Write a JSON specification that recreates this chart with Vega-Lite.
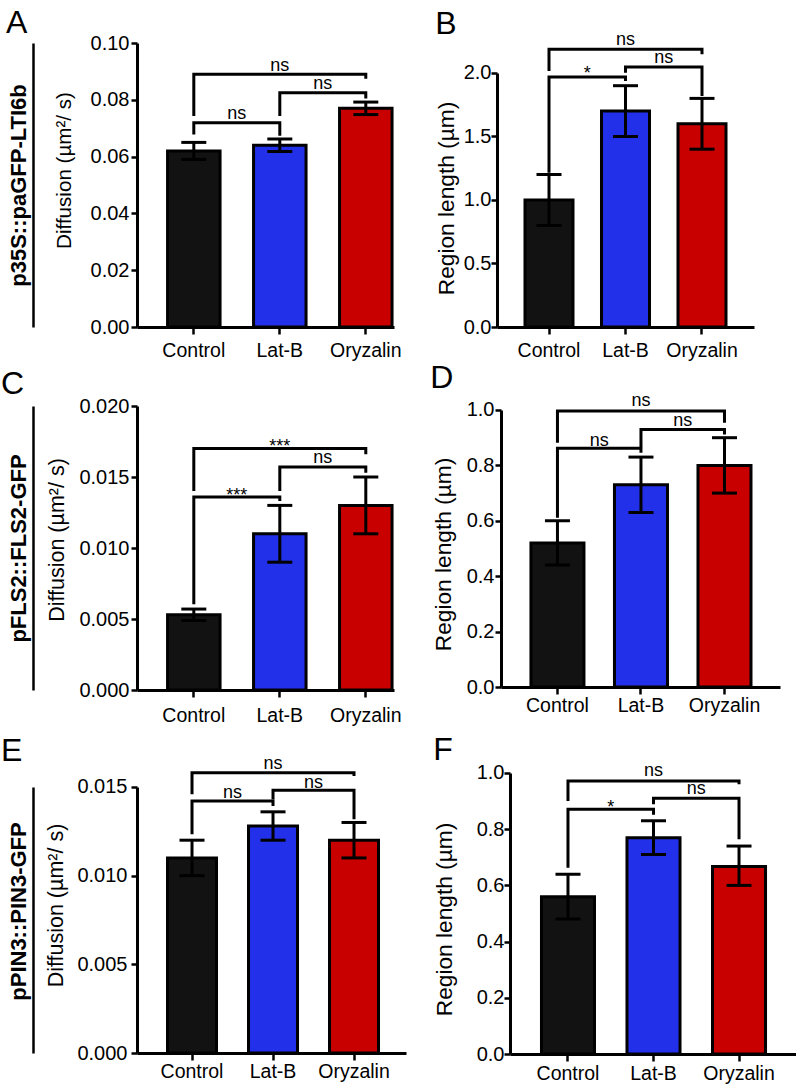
{
  "$schema": "https://vega.github.io/schema/vega-lite/v6.json",
  "padding": {"left": 1, "top": 7, "right": 2, "bottom": 2},
  "background": "white",
  "spacing": 363,
  "bounds": "flush",
  "datasets": {
    "barsA": [{"g": "Control", "m": 0.062, "lo": 0.059, "hi": 0.065}, {"g": "Lat-B", "m": 0.064, "lo": 0.0618, "hi": 0.0662}, {"g": "Oryzalin", "m": 0.077, "lo": 0.0748, "hi": 0.0792}],
    "barsB": [{"g": "Control", "m": 1.0, "lo": 0.8, "hi": 1.2}, {"g": "Lat-B", "m": 1.7, "lo": 1.5, "hi": 1.9}, {"g": "Oryzalin", "m": 1.6, "lo": 1.4, "hi": 1.8}],
    "barsC": [{"g": "Control", "m": 0.0053, "lo": 0.0049, "hi": 0.0057}, {"g": "Lat-B", "m": 0.011, "lo": 0.009, "hi": 0.013}, {"g": "Oryzalin", "m": 0.013, "lo": 0.011, "hi": 0.015}],
    "barsD": [{"g": "Control", "m": 0.52, "lo": 0.44, "hi": 0.6}, {"g": "Lat-B", "m": 0.73, "lo": 0.63, "hi": 0.83}, {"g": "Oryzalin", "m": 0.8, "lo": 0.7, "hi": 0.9}],
    "barsE": [{"g": "Control", "m": 0.011, "lo": 0.01, "hi": 0.012}, {"g": "Lat-B", "m": 0.0128, "lo": 0.012, "hi": 0.0136}, {"g": "Oryzalin", "m": 0.012, "lo": 0.011, "hi": 0.013}],
    "barsF": [{"g": "Control", "m": 0.56, "lo": 0.48, "hi": 0.64}, {"g": "Lat-B", "m": 0.77, "lo": 0.71, "hi": 0.83}, {"g": "Oryzalin", "m": 0.667, "lo": 0.6, "hi": 0.74}],
    "brA": [
      {"id": 1, "k": 0, "g": "Control", "v": 0.0678}, {"id": 1, "k": 1, "g": "Control", "v": 0.0719}, {"id": 1, "k": 2, "g": "Lat-B", "v": 0.0719}, {"id": 1, "k": 3, "g": "Lat-B", "v": 0.0673},
      {"id": 2, "k": 0, "g": "Lat-B", "v": 0.0743}, {"id": 2, "k": 1, "g": "Lat-B", "v": 0.0825}, {"id": 2, "k": 2, "g": "Oryzalin", "v": 0.0825}, {"id": 2, "k": 3, "g": "Oryzalin", "v": 0.0805},
      {"id": 3, "k": 0, "g": "Control", "v": 0.0743}, {"id": 3, "k": 1, "g": "Control", "v": 0.089}, {"id": 3, "k": 2, "g": "Oryzalin", "v": 0.089}, {"id": 3, "k": 3, "g": "Oryzalin", "v": 0.0874}
    ],
    "brB": [
      {"id": 1, "k": 0, "g": "Control", "v": 1.215}, {"id": 1, "k": 1, "g": "Control", "v": 1.969}, {"id": 1, "k": 2, "g": "Lat-B", "v": 1.969}, {"id": 1, "k": 3, "g": "Lat-B", "v": 1.937},
      {"id": 2, "k": 0, "g": "Lat-B", "v": 2.002}, {"id": 2, "k": 1, "g": "Lat-B", "v": 2.047}, {"id": 2, "k": 2, "g": "Oryzalin", "v": 2.047}, {"id": 2, "k": 3, "g": "Oryzalin", "v": 1.819},
      {"id": 3, "k": 0, "g": "Control", "v": 2.016}, {"id": 3, "k": 1, "g": "Control", "v": 2.187}, {"id": 3, "k": 2, "g": "Oryzalin", "v": 2.187}, {"id": 3, "k": 3, "g": "Oryzalin", "v": 2.147}
    ],
    "brC": [
      {"id": 1, "k": 0, "g": "Control", "v": 0.00604}, {"id": 1, "k": 1, "g": "Control", "v": 0.01359}, {"id": 1, "k": 2, "g": "Lat-B", "v": 0.01359}, {"id": 1, "k": 3, "g": "Lat-B", "v": 0.01331},
      {"id": 2, "k": 0, "g": "Lat-B", "v": 0.01401}, {"id": 2, "k": 1, "g": "Lat-B", "v": 0.0157}, {"id": 2, "k": 2, "g": "Oryzalin", "v": 0.0157}, {"id": 2, "k": 3, "g": "Oryzalin", "v": 0.0153},
      {"id": 3, "k": 0, "g": "Control", "v": 0.01401}, {"id": 3, "k": 1, "g": "Control", "v": 0.017}, {"id": 3, "k": 2, "g": "Oryzalin", "v": 0.017}, {"id": 3, "k": 3, "g": "Oryzalin", "v": 0.0166}
    ],
    "brD": [
      {"id": 1, "k": 0, "g": "Control", "v": 0.611}, {"id": 1, "k": 1, "g": "Control", "v": 0.862}, {"id": 1, "k": 2, "g": "Lat-B", "v": 0.862}, {"id": 1, "k": 3, "g": "Lat-B", "v": 0.846},
      {"id": 2, "k": 0, "g": "Lat-B", "v": 0.866}, {"id": 2, "k": 1, "g": "Lat-B", "v": 0.93}, {"id": 2, "k": 2, "g": "Oryzalin", "v": 0.93}, {"id": 2, "k": 3, "g": "Oryzalin", "v": 0.912},
      {"id": 3, "k": 0, "g": "Control", "v": 0.882}, {"id": 3, "k": 1, "g": "Control", "v": 0.996}, {"id": 3, "k": 2, "g": "Oryzalin", "v": 0.996}, {"id": 3, "k": 3, "g": "Oryzalin", "v": 0.954}
    ],
    "brE": [
      {"id": 1, "k": 0, "g": "Control", "v": 0.01233}, {"id": 1, "k": 1, "g": "Control", "v": 0.01421}, {"id": 1, "k": 2, "g": "Lat-B", "v": 0.01421}, {"id": 1, "k": 3, "g": "Lat-B", "v": 0.01393},
      {"id": 2, "k": 0, "g": "Lat-B", "v": 0.0143}, {"id": 2, "k": 1, "g": "Lat-B", "v": 0.01481}, {"id": 2, "k": 2, "g": "Oryzalin", "v": 0.01481}, {"id": 2, "k": 3, "g": "Oryzalin", "v": 0.01318},
      {"id": 3, "k": 0, "g": "Control", "v": 0.01459}, {"id": 3, "k": 1, "g": "Control", "v": 0.01581}, {"id": 3, "k": 2, "g": "Oryzalin", "v": 0.01581}, {"id": 3, "k": 3, "g": "Oryzalin", "v": 0.01562}
    ],
    "brF": [
      {"id": 1, "k": 0, "g": "Control", "v": 0.663}, {"id": 1, "k": 1, "g": "Control", "v": 0.871}, {"id": 1, "k": 2, "g": "Lat-B", "v": 0.871}, {"id": 1, "k": 3, "g": "Lat-B", "v": 0.851},
      {"id": 2, "k": 0, "g": "Lat-B", "v": 0.889}, {"id": 2, "k": 1, "g": "Lat-B", "v": 0.91}, {"id": 2, "k": 2, "g": "Oryzalin", "v": 0.91}, {"id": 2, "k": 3, "g": "Oryzalin", "v": 0.764},
      {"id": 3, "k": 0, "g": "Control", "v": 0.9}, {"id": 3, "k": 1, "g": "Control", "v": 0.9715}, {"id": 3, "k": 2, "g": "Oryzalin", "v": 0.9715}, {"id": 3, "k": 3, "g": "Oryzalin", "v": 0.96}
    ]
  },
  "vconcat": [
    {
      "bounds": "flush",
      "spacing": 103,
      "hconcat": [
        {
          "width": 257, "height": 284,
          "title": {"text": "A", "anchor": "start", "frame": "bounds", "dx": -1, "offset": -7},
          "layer": [
            {"layer": [
              {"data": {"name": "barsA"}, "mark": {"type": "bar", "stroke": "black", "strokeWidth": 3},
               "encoding": {
                 "x": {"field": "g", "type": "nominal", "scale": {"domain": ["Control", "Lat-B", "Oryzalin"], "paddingInner": 0.3895, "paddingOuter": 0.189, "align": 0.94, "round": false}, "axis": {"title": null, "labelPadding": 7.2}},
                 "y": {"field": "m", "type": "quantitative", "scale": {"domain": [0, 0.1], "nice": false}, "axis": {"values": [0, 0.02, 0.04, 0.06, 0.08, 0.1], "format": ".2f", "title": "Diffusion (µm²/ s)", "titleFontSize": 20.6, "titlePadding": 16, "labelPadding": 2, "titleY": 127}},
                 "color": {"field": "g", "type": "nominal", "scale": {"domain": ["Control", "Lat-B", "Oryzalin"], "range": ["#121212", "#2230ea", "#c80000"]}, "legend": null}}},
              {"data": {"name": "barsA"}, "mark": {"type": "rule", "color": "black", "strokeWidth": 3},
               "encoding": {"x": {"field": "g", "type": "nominal"}, "y": {"field": "lo", "type": "quantitative"}, "y2": {"field": "hi"}}},
              {"data": {"name": "barsA"}, "mark": {"type": "tick", "color": "black", "opacity": 1, "size": 25, "thickness": 3},
               "encoding": {"x": {"field": "g", "type": "nominal"}, "y": {"field": "hi", "type": "quantitative"}}},
              {"data": {"name": "barsA"}, "mark": {"type": "tick", "color": "black", "opacity": 1, "size": 25, "thickness": 3},
               "encoding": {"x": {"field": "g", "type": "nominal"}, "y": {"field": "lo", "type": "quantitative"}}},
              {"data": {"name": "brA"}, "mark": {"type": "line", "color": "black", "strokeWidth": 3, "strokeJoin": "miter", "strokeCap": "butt"},
               "encoding": {"x": {"field": "g", "type": "nominal"}, "y": {"field": "v", "type": "quantitative"}, "detail": {"field": "id"}, "order": {"field": "k"}}},
              {"data": {"values": [{"g": "Control", "v": 0.0732, "lab": "ns"}, {"g": "Lat-B", "v": 0.0838, "lab": "ns"}]},
               "mark": {"type": "text", "fontSize": 18, "baseline": "alphabetic", "align": "center", "color": "black"},
               "encoding": {"x": {"field": "g", "type": "nominal", "bandPosition": 1.319}, "y": {"field": "v", "type": "quantitative"}, "text": {"field": "lab"}}},
              {"data": {"values": [{"g": "Lat-B", "v": 0.0901, "lab": "ns"}]},
               "mark": {"type": "text", "fontSize": 18, "baseline": "alphabetic", "align": "center", "color": "black"},
               "encoding": {"x": {"field": "g", "type": "nominal"}, "y": {"field": "v", "type": "quantitative"}, "text": {"field": "lab"}}}
            ]},
            {"data": {"values": [{"z": 0}]}, "mark": {"type": "point", "opacity": 0},
             "encoding": {"y": {"field": "z", "type": "quantitative", "scale": {"domain": [0, 1]},
               "axis": {"orient": "left", "offset": 104, "domain": true, "domainWidth": 2.5, "ticks": false, "labels": false, "grid": false, "title": "p35S::paGFP-LTI6b", "titleFontSize": 22, "titleFontWeight": "bold", "titlePadding": 3}}}}
          ],
          "resolve": {"scale": {"y": "independent"}, "axis": {"y": "independent"}}
        },
        {
          "width": 257, "height": 284,
          "title": {"text": "B", "anchor": "start", "frame": "bounds", "dx": 0, "offset": -10},
          "layer": [
            {"data": {"name": "barsB"}, "mark": {"type": "bar", "stroke": "black", "strokeWidth": 3},
             "encoding": {
               "x": {"field": "g", "type": "nominal", "scale": {"domain": ["Control", "Lat-B", "Oryzalin"], "paddingInner": 0.3725, "paddingOuter": 0.366, "align": 0.5, "round": false}, "axis": {"title": null, "labelPadding": 7.3}},
               "y": {"field": "m", "type": "quantitative", "scale": {"domain": [0, 2.2362], "nice": false}, "axis": {"values": [0, 0.5, 1, 1.5, 2], "format": ".1f", "title": "Region length (µm)", "titleFontSize": 22.7, "titlePadding": 5, "labelPadding": 0, "titleY": 155, "domainDash": [254, 1000]}},
               "color": {"field": "g", "type": "nominal", "scale": {"domain": ["Control", "Lat-B", "Oryzalin"], "range": ["#121212", "#2230ea", "#c80000"]}, "legend": null}}},
            {"data": {"name": "barsB"}, "mark": {"type": "rule", "color": "black", "strokeWidth": 3},
             "encoding": {"x": {"field": "g", "type": "nominal"}, "y": {"field": "lo", "type": "quantitative"}, "y2": {"field": "hi"}}},
            {"data": {"name": "barsB"}, "mark": {"type": "tick", "color": "black", "opacity": 1, "size": 25, "thickness": 3},
             "encoding": {"x": {"field": "g", "type": "nominal"}, "y": {"field": "hi", "type": "quantitative"}}},
            {"data": {"name": "barsB"}, "mark": {"type": "tick", "color": "black", "opacity": 1, "size": 25, "thickness": 3},
             "encoding": {"x": {"field": "g", "type": "nominal"}, "y": {"field": "lo", "type": "quantitative"}}},
            {"data": {"name": "brB"}, "mark": {"type": "line", "color": "black", "strokeWidth": 3, "strokeJoin": "miter", "strokeCap": "butt"},
             "encoding": {"x": {"field": "g", "type": "nominal"}, "y": {"field": "v", "type": "quantitative"}, "detail": {"field": "id"}, "order": {"field": "k"}}},
            {"data": {"values": [{"g": "Control", "v": 1.949, "lab": "*"}, {"g": "Lat-B", "v": 2.079, "lab": "ns"}]},
             "mark": {"type": "text", "fontSize": 18, "baseline": "alphabetic", "align": "center", "color": "black"},
             "encoding": {"x": {"field": "g", "type": "nominal", "bandPosition": 1.297}, "y": {"field": "v", "type": "quantitative"}, "text": {"field": "lab"}}},
            {"data": {"values": [{"g": "Lat-B", "v": 2.22, "lab": "ns"}]},
             "mark": {"type": "text", "fontSize": 18, "baseline": "alphabetic", "align": "center", "color": "black"},
             "encoding": {"x": {"field": "g", "type": "nominal"}, "y": {"field": "v", "type": "quantitative"}, "text": {"field": "lab"}}}
          ]
        }
      ]
    },
    {
      "bounds": "flush",
      "spacing": 107,
      "hconcat": [
        {
          "width": 257, "height": 284,
          "title": {"text": "C", "anchor": "start", "frame": "bounds", "dx": -6, "offset": -5},
          "layer": [
            {"layer": [
              {"data": {"name": "barsC"}, "mark": {"type": "bar", "stroke": "black", "strokeWidth": 3},
               "encoding": {
                 "x": {"field": "g", "type": "nominal", "scale": {"domain": ["Control", "Lat-B", "Oryzalin"], "paddingInner": 0.3895, "paddingOuter": 0.189, "align": 0.94, "round": false}, "axis": {"title": null, "labelPadding": 9.3}},
                 "y": {"field": "m", "type": "quantitative", "scale": {"domain": [0, 0.02], "nice": false}, "axis": {"values": [0, 0.005, 0.01, 0.015, 0.02], "format": ".3f", "title": "Diffusion (µm²/ s)", "titleFontSize": 21.5, "titlePadding": 10, "labelPadding": 2, "titleY": 133.5}},
                 "color": {"field": "g", "type": "nominal", "scale": {"domain": ["Control", "Lat-B", "Oryzalin"], "range": ["#121212", "#2230ea", "#c80000"]}, "legend": null}}},
              {"data": {"name": "barsC"}, "mark": {"type": "rule", "color": "black", "strokeWidth": 3},
               "encoding": {"x": {"field": "g", "type": "nominal"}, "y": {"field": "lo", "type": "quantitative"}, "y2": {"field": "hi"}}},
              {"data": {"name": "barsC"}, "mark": {"type": "tick", "color": "black", "opacity": 1, "size": 25, "thickness": 3},
               "encoding": {"x": {"field": "g", "type": "nominal"}, "y": {"field": "hi", "type": "quantitative"}}},
              {"data": {"name": "barsC"}, "mark": {"type": "tick", "color": "black", "opacity": 1, "size": 25, "thickness": 3},
               "encoding": {"x": {"field": "g", "type": "nominal"}, "y": {"field": "lo", "type": "quantitative"}}},
              {"data": {"name": "brC"}, "mark": {"type": "line", "color": "black", "strokeWidth": 3, "strokeJoin": "miter", "strokeCap": "butt"},
               "encoding": {"x": {"field": "g", "type": "nominal"}, "y": {"field": "v", "type": "quantitative"}, "detail": {"field": "id"}, "order": {"field": "k"}}},
              {"data": {"values": [{"g": "Control", "v": 0.01331, "lab": "***"}, {"g": "Lat-B", "v": 0.016, "lab": "ns"}]},
               "mark": {"type": "text", "fontSize": 18, "baseline": "alphabetic", "align": "center", "color": "black"},
               "encoding": {"x": {"field": "g", "type": "nominal", "bandPosition": 1.319}, "y": {"field": "v", "type": "quantitative"}, "text": {"field": "lab"}}},
              {"data": {"values": [{"g": "Lat-B", "v": 0.01678, "lab": "***"}]},
               "mark": {"type": "text", "fontSize": 18, "baseline": "alphabetic", "align": "center", "color": "black"},
               "encoding": {"x": {"field": "g", "type": "nominal"}, "y": {"field": "v", "type": "quantitative"}, "text": {"field": "lab"}}}
            ]},
            {"data": {"values": [{"z": 0}]}, "mark": {"type": "point", "opacity": 0},
             "encoding": {"y": {"field": "z", "type": "quantitative", "scale": {"domain": [0, 1]},
               "axis": {"orient": "left", "offset": 104, "domain": true, "domainWidth": 2.5, "ticks": false, "labels": false, "grid": false, "title": "pFLS2::FLS2-GFP", "titleFontSize": 22, "titleFontWeight": "bold", "titlePadding": 3}}}}
          ],
          "resolve": {"scale": {"y": "independent"}, "axis": {"y": "independent"}}
        },
        {
          "width": 279, "height": 281,
          "title": {"text": "D", "anchor": "start", "frame": "bounds", "dx": -2, "offset": -3},
          "layer": [
            {"data": {"name": "barsD"}, "mark": {"type": "bar", "stroke": "black", "strokeWidth": 3},
             "encoding": {
               "x": {"field": "g", "type": "nominal", "scale": {"domain": ["Control", "Lat-B", "Oryzalin"], "paddingInner": 0.3653, "paddingOuter": 0.353, "align": 0.508, "round": false}, "axis": {"title": null, "labelPadding": 2.3}},
               "y": {"field": "m", "type": "quantitative", "scale": {"domain": [0, 1.01444], "nice": false}, "axis": {"values": [0, 0.2, 0.4, 0.6, 0.8, 1], "format": ".1f", "title": "Region length (µm)", "titleFontSize": 22.7, "titlePadding": 11, "labelPadding": 1, "titleY": 148, "domainDash": [277, 1000]}},
               "color": {"field": "g", "type": "nominal", "scale": {"domain": ["Control", "Lat-B", "Oryzalin"], "range": ["#121212", "#2230ea", "#c80000"]}, "legend": null}}},
            {"data": {"name": "barsD"}, "mark": {"type": "rule", "color": "black", "strokeWidth": 3},
             "encoding": {"x": {"field": "g", "type": "nominal"}, "y": {"field": "lo", "type": "quantitative"}, "y2": {"field": "hi"}}},
            {"data": {"name": "barsD"}, "mark": {"type": "tick", "color": "black", "opacity": 1, "size": 25, "thickness": 3},
             "encoding": {"x": {"field": "g", "type": "nominal"}, "y": {"field": "hi", "type": "quantitative"}}},
            {"data": {"name": "barsD"}, "mark": {"type": "tick", "color": "black", "opacity": 1, "size": 25, "thickness": 3},
             "encoding": {"x": {"field": "g", "type": "nominal"}, "y": {"field": "lo", "type": "quantitative"}}},
            {"data": {"name": "brD"}, "mark": {"type": "line", "color": "black", "strokeWidth": 3, "strokeJoin": "miter", "strokeCap": "butt"},
             "encoding": {"x": {"field": "g", "type": "nominal"}, "y": {"field": "v", "type": "quantitative"}, "detail": {"field": "id"}, "order": {"field": "k"}}},
            {"data": {"values": [{"g": "Control", "v": 0.87, "lab": "ns"}, {"g": "Lat-B", "v": 0.942, "lab": "ns"}]},
             "mark": {"type": "text", "fontSize": 18, "baseline": "alphabetic", "align": "center", "color": "black"},
             "encoding": {"x": {"field": "g", "type": "nominal", "bandPosition": 1.288}, "y": {"field": "v", "type": "quantitative"}, "text": {"field": "lab"}}},
            {"data": {"values": [{"g": "Lat-B", "v": 1.014, "lab": "ns"}]},
             "mark": {"type": "text", "fontSize": 18, "baseline": "alphabetic", "align": "center", "color": "black"},
             "encoding": {"x": {"field": "g", "type": "nominal"}, "y": {"field": "v", "type": "quantitative"}, "text": {"field": "lab"}}}
          ]
        }
      ]
    },
    {
      "bounds": "flush",
      "spacing": 104,
      "hconcat": [
        {
          "width": 269, "height": 284,
          "title": {"text": "E", "anchor": "start", "frame": "bounds", "dx": -6, "offset": -13},
          "layer": [
            {"layer": [
              {"data": {"name": "barsE"}, "mark": {"type": "bar", "stroke": "black", "strokeWidth": 3},
               "encoding": {
                 "x": {"field": "g", "type": "nominal", "scale": {"domain": ["Control", "Lat-B", "Oryzalin"], "paddingInner": 0.395, "paddingOuter": 0.358, "align": 0.526, "round": false}, "axis": {"title": null, "labelPadding": 2.9}},
                 "y": {"field": "m", "type": "quantitative", "scale": {"domain": [0, 0.016015], "nice": false}, "axis": {"values": [0, 0.005, 0.01, 0.015], "format": ".3f", "title": "Diffusion (µm²/ s)", "titleFontSize": 21.5, "titlePadding": 9, "labelPadding": 4, "titleY": 136, "domainDash": [266, 1000]}},
                 "color": {"field": "g", "type": "nominal", "scale": {"domain": ["Control", "Lat-B", "Oryzalin"], "range": ["#121212", "#2230ea", "#c80000"]}, "legend": null}}},
              {"data": {"name": "barsE"}, "mark": {"type": "rule", "color": "black", "strokeWidth": 3},
               "encoding": {"x": {"field": "g", "type": "nominal"}, "y": {"field": "lo", "type": "quantitative"}, "y2": {"field": "hi"}}},
              {"data": {"name": "barsE"}, "mark": {"type": "tick", "color": "black", "opacity": 1, "size": 25, "thickness": 3},
               "encoding": {"x": {"field": "g", "type": "nominal"}, "y": {"field": "hi", "type": "quantitative"}}},
              {"data": {"name": "barsE"}, "mark": {"type": "tick", "color": "black", "opacity": 1, "size": 25, "thickness": 3},
               "encoding": {"x": {"field": "g", "type": "nominal"}, "y": {"field": "lo", "type": "quantitative"}}},
              {"data": {"name": "brE"}, "mark": {"type": "line", "color": "black", "strokeWidth": 3, "strokeJoin": "miter", "strokeCap": "butt"},
               "encoding": {"x": {"field": "g", "type": "nominal"}, "y": {"field": "v", "type": "quantitative"}, "detail": {"field": "id"}, "order": {"field": "k"}}},
              {"data": {"values": [{"g": "Control", "v": 0.0144, "lab": "ns"}, {"g": "Lat-B", "v": 0.01496, "lab": "ns"}]},
               "mark": {"type": "text", "fontSize": 18, "baseline": "alphabetic", "align": "center", "color": "black"},
               "encoding": {"x": {"field": "g", "type": "nominal", "bandPosition": 1.327}, "y": {"field": "v", "type": "quantitative"}, "text": {"field": "lab"}}},
              {"data": {"values": [{"g": "Lat-B", "v": 0.016, "lab": "ns"}]},
               "mark": {"type": "text", "fontSize": 18, "baseline": "alphabetic", "align": "center", "color": "black"},
               "encoding": {"x": {"field": "g", "type": "nominal"}, "y": {"field": "v", "type": "quantitative"}, "text": {"field": "lab"}}}
            ]},
            {"data": {"values": [{"z": 0}]}, "mark": {"type": "point", "opacity": 0},
             "encoding": {"y": {"field": "z", "type": "quantitative", "scale": {"domain": [0, 1]},
               "axis": {"orient": "left", "offset": 104, "domain": true, "domainWidth": 2.5, "domainDash": [266, 1000], "ticks": false, "labels": false, "grid": false, "title": "pPIN3::PIN3-GFP", "titleFontSize": 22, "titleFontWeight": "bold", "titlePadding": 3}}}}
          ],
          "resolve": {"scale": {"y": "independent"}, "axis": {"y": "independent"}}
        },
        {
          "width": 287, "height": 285,
          "title": {"text": "F", "anchor": "start", "frame": "bounds", "dx": 0, "offset": -5},
          "layer": [
            {"data": {"name": "barsF"}, "mark": {"type": "bar", "stroke": "black", "strokeWidth": 3},
             "encoding": {
               "x": {"field": "g", "type": "nominal", "scale": {"domain": ["Control", "Lat-B", "Oryzalin"], "paddingInner": 0.38, "paddingOuter": 0.368, "align": 0.5, "round": false}, "axis": {"title": null, "labelPadding": 3.6}},
               "y": {"field": "m", "type": "quantitative", "scale": {"domain": [0, 1.01423], "nice": false}, "axis": {"values": [0, 0.2, 0.4, 0.6, 0.8, 1], "format": ".1f", "title": "Region length (µm)", "titleFontSize": 22.7, "titlePadding": 20, "labelPadding": 0, "titleY": 150, "domainDash": [281, 1000]}},
               "color": {"field": "g", "type": "nominal", "scale": {"domain": ["Control", "Lat-B", "Oryzalin"], "range": ["#121212", "#2230ea", "#c80000"]}, "legend": null}}},
            {"data": {"name": "barsF"}, "mark": {"type": "rule", "color": "black", "strokeWidth": 3},
             "encoding": {"x": {"field": "g", "type": "nominal"}, "y": {"field": "lo", "type": "quantitative"}, "y2": {"field": "hi"}}},
            {"data": {"name": "barsF"}, "mark": {"type": "tick", "color": "black", "opacity": 1, "size": 25, "thickness": 3},
             "encoding": {"x": {"field": "g", "type": "nominal"}, "y": {"field": "hi", "type": "quantitative"}}},
            {"data": {"name": "barsF"}, "mark": {"type": "tick", "color": "black", "opacity": 1, "size": 25, "thickness": 3},
             "encoding": {"x": {"field": "g", "type": "nominal"}, "y": {"field": "lo", "type": "quantitative"}}},
            {"data": {"name": "brF"}, "mark": {"type": "line", "color": "black", "strokeWidth": 3, "strokeJoin": "miter", "strokeCap": "butt"},
             "encoding": {"x": {"field": "g", "type": "nominal"}, "y": {"field": "v", "type": "quantitative"}, "detail": {"field": "id"}, "order": {"field": "k"}}},
            {"data": {"values": [{"g": "Control", "v": 0.858, "lab": "*"}, {"g": "Lat-B", "v": 0.925, "lab": "ns"}]},
             "mark": {"type": "text", "fontSize": 18, "baseline": "alphabetic", "align": "center", "color": "black"},
             "encoding": {"x": {"field": "g", "type": "nominal", "bandPosition": 1.307}, "y": {"field": "v", "type": "quantitative"}, "text": {"field": "lab"}}},
            {"data": {"values": [{"g": "Lat-B", "v": 0.989, "lab": "ns"}]},
             "mark": {"type": "text", "fontSize": 18, "baseline": "alphabetic", "align": "center", "color": "black"},
             "encoding": {"x": {"field": "g", "type": "nominal"}, "y": {"field": "v", "type": "quantitative"}, "text": {"field": "lab"}}}
          ]
        }
      ]
    }
  ],
  "config": {
    "view": {"stroke": null},
    "font": "Liberation Sans",
    "text": {"font": "Liberation Sans"},
    "axis": {"grid": false, "domainColor": "black", "domainWidth": 3, "tickColor": "black", "tickWidth": 2.5, "tickSize": 6, "labelColor": "black", "labelFontSize": 20, "labelFont": "Liberation Sans", "titleFont": "Liberation Sans", "titleFontSize": 20, "titleFontWeight": "normal", "titleColor": "black", "labelPadding": 2},
    "axisX": {"labelAngle": 0, "tickSize": 7, "labelFontSize": 19.5},
    "title": {"font": "Liberation Sans", "color": "black", "fontWeight": "normal", "fontSize": 32}
  }
}
